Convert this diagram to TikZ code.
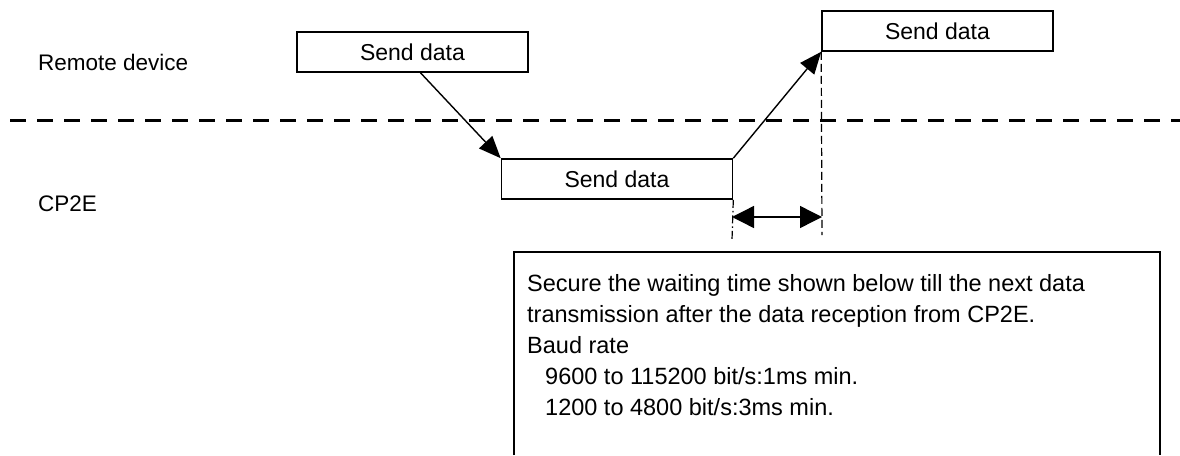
\documentclass[tikz,border=0pt]{standalone}
\usepackage{fontspec}
\setmainfont{Liberation Sans}
\usetikzlibrary{arrows.meta}
\begin{document}
\begin{tikzpicture}[x=1pt,y=-1pt,
  txt/.style={anchor=base west, inner sep=0pt, font=\fontsize{22.5}{27}\selectfont},
  note/.style={anchor=base west, inner sep=0pt, font=\fontsize{23.5}{28}\selectfont},
  sbox/.style={draw, line width=1.6pt, minimum width=231pt, minimum height=40pt, inner sep=0pt, font=\fontsize{23}{27}\selectfont},
  conn/.style={line width=1.4pt, -{Triangle[length=22pt,width=18pt]}},
  dimarrow/.style={line width=1.4pt, {Triangle[length=22pt,width=22pt]}-{Triangle[length=22pt,width=22pt]}},
  lane/.style={line width=3pt, dash pattern=on 16pt off 11pt},
  guide/.style={line width=1.2pt, dash pattern=on 8pt off 4pt},
  guidedot/.style={line width=1.2pt, dash pattern=on 8pt off 3pt on 1.5pt off 3pt},
  frame/.style={line width=1.6pt}]
\useasboundingbox (0,0) rectangle (1180,455);
% lane labels
\node[txt] (rd) at (38,70) {Remote device};
\node[txt] (cp) at (38,211) {CP2E};
% lane separator
\coordinate (l0) at (10,120);
\coordinate (l1) at (1180,120);
\draw[lane] (l0) -- (l1);
% boxes
\node[sbox] (b1) at (412.5,52) {Send data};
\node[sbox] (b3) at (617,179) {Send data};
\node[sbox] (b2) at (937.5,31) {Send data};
% connectors
\draw[conn] ([xshift=8pt]b1.south) -- (b3.north west);
\draw[conn] (b3.north east) -- (b2.south west);
% guides
\coordinate (g2) at (822,235);
\coordinate (g3) at (732,240);
\draw[guide] (b2.south west) -- (g2);
\draw[guidedot] (b3.south east) -- (g3);
\coordinate (d0) at (732,217);
\coordinate (d1) at (822,217);
\draw[dimarrow] (d0) -- (d1);
% note frame
\coordinate (f0) at (514,455);
\coordinate (f1) at (514,252);
\coordinate (f2) at (1160,252);
\coordinate (f3) at (1160,455);
\draw[frame] (f0) -- (f1) -- (f2) -- (f3);
\node[note] (n1) at (527,291) {Secure the waiting time shown below till the next data};
\node[note] (n2) at (527,322) {transmission after the data reception from CP2E.};
\node[note] (n3) at (527,353) {Baud rate};
\node[note] (n4) at (545,384) {9600 to 115200 bit/s:1ms min.};
\node[note] (n5) at (545,415) {1200 to 4800 bit/s:3ms min.};
\end{tikzpicture}
\end{document}
